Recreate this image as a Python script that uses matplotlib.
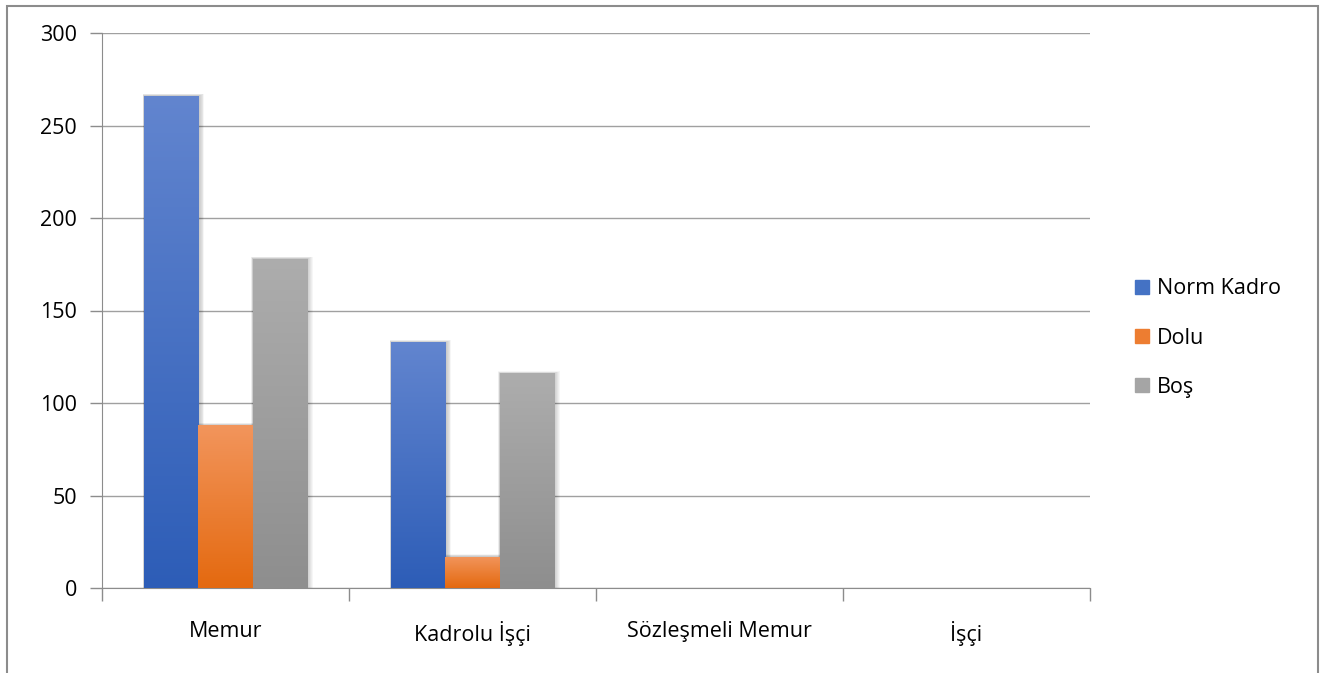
import matplotlib
matplotlib.use("Agg")
import matplotlib.pyplot as plt
import numpy as np
from matplotlib.colors import LinearSegmentedColormap
from matplotlib.patches import Rectangle
from matplotlib.lines import Line2D

categories = ["Memur", "Kadrolu İşçi", "Sözleşmeli Memur", "İşçi"]
series_names = ["Norm Kadro", "Dolu", "Boş"]
norm_kadro = [266, 133, 0, 0]
dolu = [88, 17, 0, 0]
bos = [178, 116, 0, 0]
yticks = [0, 50, 100, 150, 200, 250, 300]

top_colors = ["#6285cf", "#f2955c", "#adadad"]
bot_colors = ["#2d5db7", "#e4690f", "#8e8e8e"]
legend_colors = ["#4472c4", "#ed7d31", "#a5a5a5"]

plt.rcParams['font.family'] = ['Open Sans', 'DejaVu Sans']
FS = 15.5

fig = plt.figure(figsize=(13.28, 6.73), dpi=100)
W, H = 1328, 673
ax = fig.add_axes([102 / W, 1 - 588 / H, (1090 - 102) / W, (588 - 33) / H])

# outer frame
fig.add_artist(Rectangle((7 / W, -0.01), (1318 - 7) / W, 1 - 6 / H + 0.01, transform=fig.transFigure,
                         fill=False, edgecolor="#8c8c8c", linewidth=1.5))

x = np.arange(len(categories))
bw = 0.22
data = [norm_kadro, dolu, bos]
for i, vals in enumerate(data):
    offs = (i - 1) * bw
    bars = ax.bar(x + offs, vals, width=bw, color=legend_colors[i], zorder=3, linewidth=0)
    cmap = LinearSegmentedColormap.from_list("g%d" % i, [bot_colors[i], top_colors[i]])
    for b in bars:
        h = b.get_height()
        if h <= 0:
            continue
        x0 = b.get_x()
        w = b.get_width()
        # soft shadow
        for k in range(6):
            d = 0.004 + k * 0.003
            ax.add_patch(Rectangle((x0 - d * 0.3, 0), w + d * 1.6, h + d * 60,
                                   facecolor="black", alpha=0.035, linewidth=0, zorder=2))
        grad = np.linspace(0, 1, 256).reshape(-1, 1)
        im = ax.imshow(grad, cmap=cmap, origin="lower", aspect="auto",
                       extent=[x0, x0 + w, 0, h], zorder=4)
        im.set_clip_path(b)

ax.set_xlim(-0.5, len(categories) - 0.5)
ax.set_ylim(0, 300)
ax.set_yticks(yticks)
ax.set_yticklabels([str(v) for v in yticks])
ax.yaxis.grid(True, color="#a0a0a0", linewidth=1.0, zorder=0)
ax.set_axisbelow(True)

ax.set_xticks(x)
ax.set_xticklabels(categories)
ax.tick_params(axis="x", length=0, pad=24, labelsize=FS)
ax.set_xticks(np.arange(len(categories) + 1) - 0.5, minor=True)
ax.tick_params(axis="x", which="minor", length=9, color="#8c8c8c", width=1)
ax.tick_params(axis="y", length=9, color="#8c8c8c", width=1, pad=9, labelsize=FS)

for s in ["top", "right"]:
    ax.spines[s].set_visible(False)
ax.spines["left"].set_color("#8c8c8c")
ax.spines["bottom"].set_color("#8c8c8c")

handles = [Line2D([0], [0], marker="s", linestyle="none", markersize=10,
                  markerfacecolor=legend_colors[i], markeredgecolor=legend_colors[i]) for i in range(3)]
fig.legend(handles, series_names, loc="center left", bbox_to_anchor=(1110 / W, 1 - 338 / H),
           frameon=False, fontsize=FS, handletextpad=0.1, labelspacing=1.32, handlelength=1.2)

fig.savefig("out.png", dpi=100)
